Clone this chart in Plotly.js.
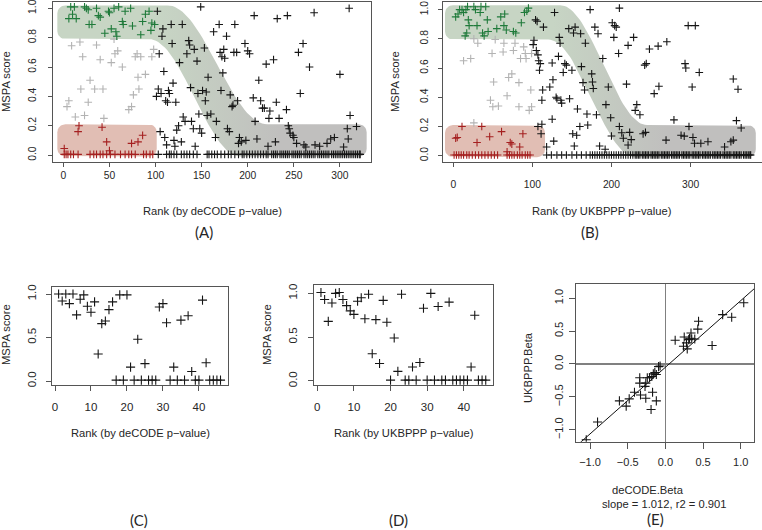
<!DOCTYPE html>
<html><head><meta charset="utf-8">
<script src="https://cdn.plot.ly/plotly-3.0.1.min.js"></script>
<style>html,body{margin:0;padding:0;background:#fff}#chart{width:762px;height:530px}</style>
</head><body><div id="chart"></div>
<script>
// ---------------- Panel A (rank by deCODE p-value) ----------------
const aGreenX = [6,8,10,12,14,23,25,27,28,31,36,38,40,45,49,50,52,55,57,58,60,64,65,67,73,75,84,86,89,93,95,96,99];
const aGreenY = [0.93,1.01,0.96,1.01,0.93,1.01,1.0,0.99,0.89,0.89,1.0,0.95,0.94,0.83,0.98,0.97,0.86,1.0,0.84,0.81,1.01,0.91,0.89,0.98,1.0,0.88,0.82,0.91,0.96,0.98,0.85,0.9,0.89];
const aGrayX = [4,6,9,13,18,19,21,23,27,29,34,36,40,43,44,52,55,56,59,64,71,74,76,78,80,81,82,84,89,96,98];
const aGrayY = [0.33,0.37,0.745,0.26,0.77,0.45,0.67,0.27,0.36,0.51,0.45,0.75,0.65,0.45,0.25,0.63,0.79,0.69,0.71,0.6,0.31,0.33,0.41,0.67,0.69,0.53,0.45,0.67,0.55,0.67,0.72];
const aRedX = [1,16,17,42,47,50,74,81,86, 1,3,5,8,11,16,29,33,36,40,43,47,51,56,62,67,71,74,78,87,90,94,97];
const aRedY = [0.045,0.16,0.2,0.19,0.09,0.03,0.08,0.09,0.135, 0.005,0.005,0.005,0.005,0.005,0.005,0.005,0.005,0.005,0.005,0.005,0.005,0.005,0.005,0.005,0.005,0.005,0.005,0.005,0.005,0.005,0.005,0.005];
const aBlackX = [101,102,103,104,105,106,107,108,109,110,111,112,113,114,115,117,118,119,120,121,122,123,125,126,128,129,130,132,134,136,137,138,139,141,142,143,145,146,147,148,149,150,151,153,154,155,156,157,160,163,165,166,169,170,171,172,173,174,175,177,178,180,181,183,184,185,186,188,189,190,191,193,197,198,200,202,206,207,208,210,212,214,216,218,220,222,223,224,228,230,231,232,234,242,243,244,245,246,249,250,253,255,257,260,261,263,267,272,273,278,286,290,294,300,304,308,309,310,311,318];
const aBlackY = [0.40,0.98,0.45,0.69,0.16,0.42,0.81,0.86,0.57,0.12,0.37,0.07,0.36,0.44,0.42,0.89,0.76,0.49,0.10,0.06,0.36,0.17,0.20,0.63,0.09,0.89,0.26,0.23,0.69,0.78,0.75,0.46,0.23,0.18,0.72,0.06,0.64,0.42,0.28,0.18,1.01,0.15,0.44,0.73,0.37,0.43,0.27,0.53,0.28,0.84,0.12,0.23,0.89,0.70,0.44,0.67,0.56,0.72,0.66,0.81,0.18,0.16,0.41,0.33,0.34,0.70,0.89,0.70,0.37,0.08,0.12,0.09,0.76,0.10,0.71,0.69,0.39,0.95,0.23,0.11,0.51,0.37,0.32,0.32,0.62,0.06,0.25,0.30,0.65,0.09,0.36,0.93,0.25,0.31,0.95,0.20,0.18,0.15,0.135,0.12,0.08,0.70,0.42,0.76,0.07,0.055,0.60,0.97,0.07,0.06,0.08,0.11,0.12,0.55,0.055,0.18,0.11,1.00,0.27,0.195];
const aZeroX = [103,112,115,117,120,123,128,131,134,137,141,145,156,158,161,164,167,171,175,179,182,186,190,194,196,199,202,205,208,211,214,217,220,222,226,228,230,232,235,237,239,241,243,245,248,250,252,254,256,258,261,263,265,267,269,271,273,276,278,280,282,284,286,288,291,293,295,297,299,301,303,305,307,309,311,313,315,317,319,321,322];
// ---------------- Panel B (rank by UKBPPP p-value) ----------------
const bGreenX = [3,6,8,11,13,16,18,19,20,17,15,26,28,30,34,35,41,37,39,44,43,55,60,65,64,67,76,79,86,90,93,95];
const bGreenY = [0.95,0.97,1.0,1.0,0.98,1.0,1.02,0.93,0.89,0.84,0.82,1.02,1.0,0.89,0.98,1.02,1.02,0.84,0.82,0.85,0.93,0.87,0.95,0.97,0.89,0.86,0.85,0.84,0.91,0.98,0.99,1.01];
const bGrayX = [13,22,26,31,26,47,50,51,57,49,63,53,64,68,70,74,76,78,83,83,85,89,91,92,96,99,98,99];
const bGrayY = [0.65,0.665,0.8,0.77,0.225,0.38,0.335,0.505,0.34,0.7,0.71,0.795,0.77,0.41,0.535,0.56,0.72,0.77,0.5,0.335,0.665,0.745,0.7,0.665,0.31,0.335,0.45,0.7];
const bRedX = [3,5,11,30,36,46,61,72,74,84,88,68, 1,4,7,10,13,17,20,24,28,32,36,40,44,48,52,56,68,71,74,77,81,84,87,91,94,97];
const bRedY = [0.12,0.125,0.2,0.09,0.2,0.13,0.165,0.09,0.08,0.06,0.15,0.027, 0.005,0.005,0.005,0.005,0.005,0.005,0.005,0.005,0.005,0.005,0.005,0.005,0.005,0.005,0.005,0.005,0.005,0.005,0.005,0.005,0.005,0.005,0.005,0.005,0.005,0.005];
const bBlackX = [104,106,102,101,105,107,108,110,109,112,113,114,107,111,112,118,122,125,125,126,128,130,131,127,133,134,135,136,137,139,141,143,146,147,150,151,152,153,154,156,157,160,161,162,164,167,166,169,170,173,175,176,177,179,181,183,185,189,192,193,196,199,200,201,203,204,206,210,210,209,213,215,219,221,223,225,221,228,230,232,236,240,243,242,244,248,259,254,260,270,269,279,288,292,293,294,297,306,298,303,302,311,305,313,322,343,351,354,354,358,360,364];
const bBlackY = [0.93,0.92,0.79,0.76,0.72,0.69,0.65,0.63,0.585,0.38,0.45,0.88,0.20,0.15,0.215,0.06,0.47,0.635,0.25,0.52,0.98,0.40,0.39,0.10,0.68,0.81,0.77,0.38,0.36,0.57,0.63,0.62,0.87,0.39,0.585,0.15,0.84,0.066,0.88,0.14,0.32,0.20,0.835,0.61,0.50,0.77,0.45,0.285,0.21,1.0,0.56,0.505,0.46,0.88,0.28,0.835,0.066,0.665,0.044,0.35,0.47,0.26,0.135,0.91,0.81,0.89,0.88,0.20,1.01,0.70,0.157,0.12,0.49,0.755,0.16,0.11,0.073,0.81,0.31,0.35,0.28,0.15,0.16,0.62,0.63,0.73,0.75,0.425,0.475,0.78,0.107,0.245,0.14,0.134,0.63,0.60,0.89,0.89,0.20,0.125,0.47,0.57,0.085,0.085,0.096,0.06,0.096,0.107,0.525,0.24,0.455,0.19];
const bZeroX = [118,124,131,137,143,150,156,162,168,173,176,179,182,185,188,191,194,197,200,203,206,209,212,215,218,221,224,227,230,232,234,236,239,241,243,245,247,250,252,254,256,258,260,263,265,267,269,271,273,276,278,280,282,284,286,289,291,293,295,297,299,302,304,306,308,310,312,315,317,319,321,323,325,328,330,332,334,336,338,341,343,345,347,349,351,354,356,358,360,362,364,367,369,371,373,375,376];
// ---------------- Panel C / D (top 46 ranks) ----------------
const cRank = [1,2,3,4,5,6,7,8,9,10,11,12,13,14,15,16,17,18,19,20,21,22,23,24,25,26,27,28,29,30,31,32,33,34,35,36,37,38,39,40,41,42,43,44,45,46];
const cScore = [1.0,0.92,1.0,0.89,1.0,0.76,0.94,0.99,0.86,0.79,0.91,0.31,0.66,0.69,0.82,0.91,0.01,0.99,0.01,0.99,0.16,0.01,0.48,0.01,0.2,0.01,0.01,0.01,0.85,0.89,0.67,0.01,0.16,0.01,0.70,0.01,0.75,0.11,0.01,0.01,0.93,0.21,0.01,0.01,0.01,0.01];
const dRank = [1,2,3,4,5,6,7,8,9,10,11,12,13,14,15,16,17,18,19,20,21,22,23,24,25,26,27,28,29,30,31,32,33,34,35,36,37,38,39,40,41,42,43,44,45,46];
const dScore = [1.01,0.93,0.68,0.89,1.0,1.01,0.93,0.86,0.8,0.76,0.91,0.95,0.71,0.99,0.31,0.7,0.2,0.92,0.67,0.01,0.49,0.11,0.99,0.01,0.01,0.16,0.01,0.21,0.83,0.01,1.0,0.01,0.85,0.01,0.01,0.9,0.01,0.01,0.01,0.01,0.01,0.16,0.75,0.01,0.01,0.01];
// ---------------- Panel E (beta comparison) ----------------
const eDecode = [-1.05,-0.9,-0.61,-0.52,-0.48,-0.41,-0.34,-0.34,-0.33,-0.26,-0.27,-0.26,-0.24,-0.21,-0.18,-0.19,-0.17,-0.16,-0.14,-0.12,-0.12,-0.09,-0.07,0.13,0.25,0.24,0.28,0.29,0.31,0.32,0.34,0.35,0.39,0.43,0.44,0.62,0.76,0.88,1.04];
const eUkb = [-1.15,-0.88,-0.56,-0.64,-0.53,-0.43,-0.21,-0.29,-0.47,-0.52,-0.34,-0.29,-0.21,-0.21,-0.19,-0.69,-0.43,-0.15,-0.13,-0.16,-0.56,-0.04,-0.03,0.36,0.41,0.27,0.32,0.23,0.37,0.39,0.47,0.38,0.38,0.53,0.65,0.28,0.75,0.71,0.93];
const eSlope = 1.012, eIntercept = -0.05, eR2 = 0.901;
// ---------------- tick labels ----------------
const aTicks = [0,50,100,150,200,250,300];
const bTicks = [0,100,200,300];
const scoreTicks = [0,0.2,0.4,0.6,0.8,1.0];
const scoreLabels = ['0.0','0.2','0.4','0.6','0.8','1.0'];
const smallRankTicks = [0,10,20,30,40];
const smallScoreTicks = [0,0.5,1.0];
const smallScoreLabels = ['0.0','0.5','1.0'];
const betaTicks = [-1,-0.5,0,0.5,1];
const betaLabels = ['\u22121.0','\u22120.5','0.0','0.5','1.0'];

// ---------------- layout helpers ----------------
const W = 762, H = 530;
const FONT = 'Liberation Sans, Arial, sans-serif';
const TXT = '#262626';
const xd = (l, r) => [l / W, r / W];
const yd = (t, b) => [1 - b / H, 1 - t / H];
const px = x => x / W, py = y => 1 - y / H;

function axis(domain, range, tickvals, ticktext, extra) {
  return Object.assign({
    domain, range, tickmode: 'array', tickvals, ticktext,
    showgrid: false, zeroline: false, showline: true, mirror: true,
    linecolor: '#555', linewidth: 1, ticks: 'outside', ticklen: 4,
    tickcolor: '#555', tickwidth: 1, ticklabeloverflow: 'allow',
    tickfont: {family: FONT, size: 10.3, color: TXT}, fixedrange: true
  }, extra);
}

// decorative rounded band (geometry only)
function band(o) {
  const xs = [], ys = [];
  const p = (x, y) => { xs.push(x); ys.push(y); };
  const arc = (cx, cy, a0, a1) => { for (let i = 0; i <= 8; i++) { const a = a0 + (a1 - a0) * i / 8; p(cx + o.rx * Math.cos(a), cy + o.ry * Math.sin(a)); } };
  arc(o.L + o.rx, o.topHi - o.ry, Math.PI, Math.PI / 2);
  p(o.topA, o.topHi);
  for (let i = 1; i <= 40; i++) { const t = i / 40; p(o.topA + (o.topB - o.topA) * t, o.topHi + (o.topLo - o.topHi) * (1 - Math.cos(Math.PI * t)) / 2); }
  arc(o.R - o.rx, o.topLo - o.ry, Math.PI / 2, 0);
  arc(o.R - o.rx, o.botLo + o.ry, 0, -Math.PI / 2);
  p(o.botB, o.botLo);
  for (let i = 1; i <= 40; i++) { const t = i / 40; p(o.botB + (o.botA - o.botB) * t, o.botLo + (o.botHi - o.botLo) * (1 - Math.cos(Math.PI * t)) / 2); }
  arc(o.L + o.rx, o.botHi + o.ry, -Math.PI / 2, -Math.PI);
  p(xs[0], ys[0]);
  return {xs, ys};
}
function rrect(L, R, T, B, rx, ry) {
  return band({L, R, topHi: T, topLo: T, botHi: B, botLo: B, topA: L + rx, topB: R - rx, botA: L + rx, botB: R - rx, rx, ry});
}

const GREEN = 'rgb(199,213,196)', GRAY = 'rgb(192,191,190)', REDF = 'rgb(225,190,180)';
function bandTrace(b, xa, ya, start, stop) {
  return {x: b.xs, y: b.ys, xaxis: xa, yaxis: ya, mode: 'lines', line: {width: 0, color: 'rgba(0,0,0,0)'},
    fill: 'toself', fillgradient: {type: 'horizontal', start, stop, colorscale: [[0, GREEN], [1, GRAY]]},
    hoverinfo: 'skip', showlegend: false};
}
function boxTrace(b, xa, ya) {
  return {x: b.xs, y: b.ys, xaxis: xa, yaxis: ya, mode: 'lines', line: {width: 0, color: 'rgba(0,0,0,0)'},
    fill: 'toself', fillcolor: REDF, hoverinfo: 'skip', showlegend: false};
}
function pts(x, y, xa, ya, color, size) {
  return {x, y, xaxis: xa, yaxis: ya, mode: 'markers', type: 'scatter', hoverinfo: 'skip', showlegend: false,
    marker: {symbol: 'cross-thin', size: size || 5.5, color, line: {width: 1.1, color}}};
}

const C_GREEN = '#1f7a3a', C_RED = '#a52020', C_GRAY = '#b3b3b3', C_BLACK = '#151515';

const aZeroY = aZeroX.map(() => 0.005);
const bZeroY = bZeroX.map(() => 0.005);

const bandA = band({L: -6.5, R: 329, topHi: 1.02, topLo: 0.21, botHi: 0.79, botLo: -0.01, topA: 113, topB: 221, botA: 93, botB: 192, rx: 8.7, ry: 0.054});
const redA = rrect(-6.5, 101.3, 0.21, -0.01, 8.7, 0.054);
const bandB = band({L: -10.5, R: 382.5, topHi: 1.03, topLo: 0.21, botHi: 0.795, botLo: -0.01, topA: 135, topB: 245, botA: 120, botB: 230, rx: 10.1, ry: 0.055});
const redB = rrect(-10.5, 116, 0.21, -0.01, 10.1, 0.055);

const eLineX = [-1.3, 1.3];
const eLineY = eLineX.map(v => eIntercept + eSlope * v);

const data = [
  bandTrace(bandA, 'x', 'y', 105, 235), boxTrace(redA, 'x', 'y'),
  pts(aGrayX, aGrayY, 'x', 'y', C_GRAY), pts(aRedX, aRedY, 'x', 'y', C_RED), pts(aGreenX, aGreenY, 'x', 'y', C_GREEN),
  pts(aBlackX, aBlackY, 'x', 'y', C_BLACK), pts(aZeroX, aZeroY, 'x', 'y', C_BLACK),
  bandTrace(bandB, 'x2', 'y2', 125, 270), boxTrace(redB, 'x2', 'y2'),
  pts(bGrayX, bGrayY, 'x2', 'y2', C_GRAY), pts(bRedX, bRedY, 'x2', 'y2', C_RED), pts(bGreenX, bGreenY, 'x2', 'y2', C_GREEN),
  pts(bBlackX, bBlackY, 'x2', 'y2', C_BLACK), pts(bZeroX, bZeroY, 'x2', 'y2', C_BLACK),
  pts(cRank, cScore, 'x3', 'y3', C_BLACK, 6.5),
  pts(dRank, dScore, 'x4', 'y4', C_BLACK, 6.5),
  {x: eLineX, y: eLineY, xaxis: 'x5', yaxis: 'y5', mode: 'lines', line: {color: '#111', width: 1}, hoverinfo: 'skip', showlegend: false},
  pts(eDecode, eUkb, 'x5', 'y5', C_BLACK, 6.5)
];

const bigTick = {family: FONT, size: 11.5, color: TXT};
const layout = {
  width: W, height: H, margin: {l: 0, r: 0, t: 0, b: 0}, paper_bgcolor: '#fff', plot_bgcolor: '#fff', showlegend: false,
  xaxis: axis(xd(53, 371), [-11.2, 333.7], aTicks, aTicks.map(String), {anchor: 'y', ticklabelstandoff: 0}),
  yaxis: axis(yd(2, 162), [-0.047, 1.043], scoreTicks, scoreLabels, {anchor: 'x', tickangle: -90, ticklabelstandoff: 8}),
  xaxis2: axis(xd(442.7, 761.5), [-13.4, 389.7], bTicks, bTicks.map(String), {anchor: 'y2', ticklabelstandoff: 9}),
  yaxis2: axis(yd(2, 162), [-0.043, 1.052], scoreTicks, scoreLabels, {anchor: 'x2', tickangle: -90, ticklabelstandoff: 6}),
  xaxis3: axis(xd(52.3, 227.7), [-0.75, 48], smallRankTicks, smallRankTicks.map(String), {anchor: 'y3', ticklen: 5, tickfont: bigTick, ticklabelstandoff: 6}),
  yaxis3: axis(yd(286.7, 385), [-0.046, 1.084], smallScoreTicks, smallScoreLabels, {anchor: 'x3', ticklen: 5, tickfont: bigTick, tickangle: -90, ticklabelstandoff: 6}),
  xaxis4: axis(xd(314, 492.7), [-0.9, 47.9], smallRankTicks, smallRankTicks.map(String), {anchor: 'y4', ticklen: 5, tickfont: bigTick, ticklabelstandoff: 6}),
  yaxis4: axis(yd(285, 385), [-0.046, 1.095], smallScoreTicks, smallScoreLabels, {anchor: 'x4', ticklen: 5, tickfont: bigTick, tickangle: -90, ticklabelstandoff: 6}),
  xaxis5: axis(xd(575.7, 754.3), [-1.19, 1.18], betaTicks, betaLabels, {anchor: 'y5', ticklen: 6, tickfont: {family: FONT, size: 11, color: TXT}, ticklabelstandoff: 4, zeroline: true, zerolinecolor: '#808080', zerolinewidth: 1.5}),
  yaxis5: axis(yd(284.3, 441.7), [-1.18, 1.21], betaTicks, betaLabels, {anchor: 'x5', ticklen: 6, tickfont: {family: FONT, size: 11, color: TXT}, tickangle: -90, ticklabelstandoff: 1, zeroline: true, zerolinecolor: '#808080', zerolinewidth: 1.5}),
  annotations: []
};

function label(text, x, y, size, angle, family) {
  layout.annotations.push({text, x: px(x), y: py(y), xref: 'paper', yref: 'paper', xanchor: 'center', yanchor: 'middle',
    showarrow: false, textangle: angle || 0, font: {family: family || FONT, size: size || 11.2, color: TXT}});
}
label('Rank (by deCODE p\u2212value)', 212, 211);
label('MSPA score', 6, 82, 11.2, -90);
label('Rank (by UKBPPP p\u2212value)', 602, 211);
label('MSPA score', 395, 82, 11.2, -90);
label('Rank (by deCODE p\u2212value)', 140, 433);
label('MSPA score', 6, 335, 11.2, -90);
label('Rank (by UKBPPP p\u2212value)', 404, 433);
label('MSPA score', 267, 335, 11.2, -90);
label('deCODE.Beta', 648, 490);
label('slope = ' + eSlope.toFixed(3) + ', r2 = ' + eR2.toFixed(3), 664, 504);
label('UKBPPP.Beta', 528, 368, 11.2, -90);
const PF = 'Lato, Open Sans, sans-serif';
label('(A)', 204, 232, 15, 0, PF);
label('(B)', 590, 232, 15, 0, PF);
label('(C)', 139, 520, 15, 0, PF);
label('(D)', 399, 520, 15, 0, PF);
label('(E)', 655, 519, 15, 0, PF);

Plotly.newPlot('chart', data, layout, {staticPlot: true, displayModeBar: false});
</script></body></html>
